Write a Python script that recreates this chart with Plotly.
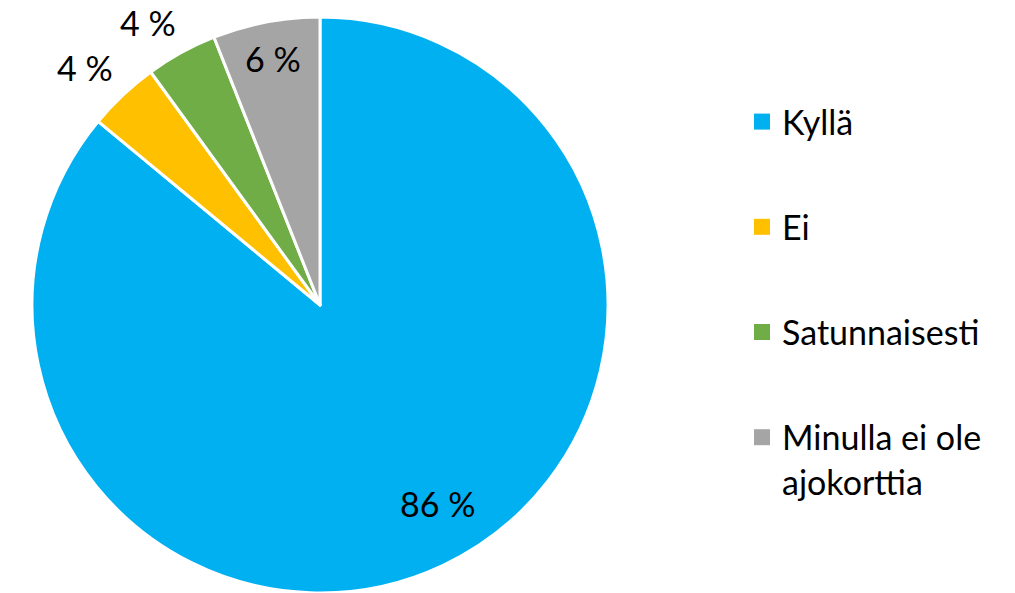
import math
import plotly.graph_objects as go

categories = ["Kyllä", "Ei", "Satunnaisesti", "Minulla ei ole ajokorttia"]
values = [86, 4, 4, 6]
colors = ["#00B0F0", "#FFC000", "#70AD47", "#A5A5A5"]
legend_labels = ["Kyllä", "Ei", "Satunnaisesti", "Minulla ei ole<br>ajokorttia"]

W, H = 1015, 593
OFF = 8  # page body margin
CX, CY, R = 320 - OFF, 305 - OFF, 288
FONT = "Lato"
FS = 34
label_radius = [0.80, 1.16, 1.15, 0.87]   # fraction of pie radius for each label
label_shift = [-5.4, -1.6, -2.5, 0.0]      # degrees of angular nudge for each label

fig = go.Figure()
fig.add_trace(go.Pie(
    labels=categories, values=values, sort=False, direction="clockwise",
    rotation=0, marker=dict(colors=colors, line=dict(color="white", width=3)),
    textinfo="none", showlegend=False, hoverinfo="label+percent",
    domain=dict(x=[(CX - R) / W, (CX + R) / W], y=[1 - (CY + R) / H, 1 - (CY - R) / H]),
))

# legend via dummy traces
for i, (lab, col) in enumerate(zip(legend_labels, colors)):
    fig.add_trace(go.Scatter(
        x=[None], y=[None], mode="markers", name=lab, legendgroup=str(i),
        marker=dict(symbol="square", size=17, color=col),
    ))

total = sum(values)
cum = 0
for v, f, s in zip(values, label_radius, label_shift):
    mid = (cum + v / 2) / total * 2 * math.pi + math.radians(s)
    cum += v
    px = CX + f * R * math.sin(mid)
    py = CY - f * R * math.cos(mid)
    fig.add_annotation(x=px / W, y=1 - py / H, xref="paper", yref="paper",
                       text=f"{round(v / total * 100)} %", showarrow=False,
                       font=dict(family=FONT, size=FS, color="black"),
                       xanchor="center", yanchor="middle")

fig.update_layout(
    width=W, height=H, margin=dict(l=0, r=0, t=0, b=0),
    paper_bgcolor="white", plot_bgcolor="white",
    xaxis=dict(visible=False), yaxis=dict(visible=False),
    legend=dict(x=(742 - OFF) / W, xanchor="left", y=1 - (93 - OFF) / H, yanchor="top",
                font=dict(family=FONT, size=FS, color="black"),
                tracegroupgap=58, valign="top", bgcolor="rgba(0,0,0,0)"),
)
fig.write_html("out.html")
